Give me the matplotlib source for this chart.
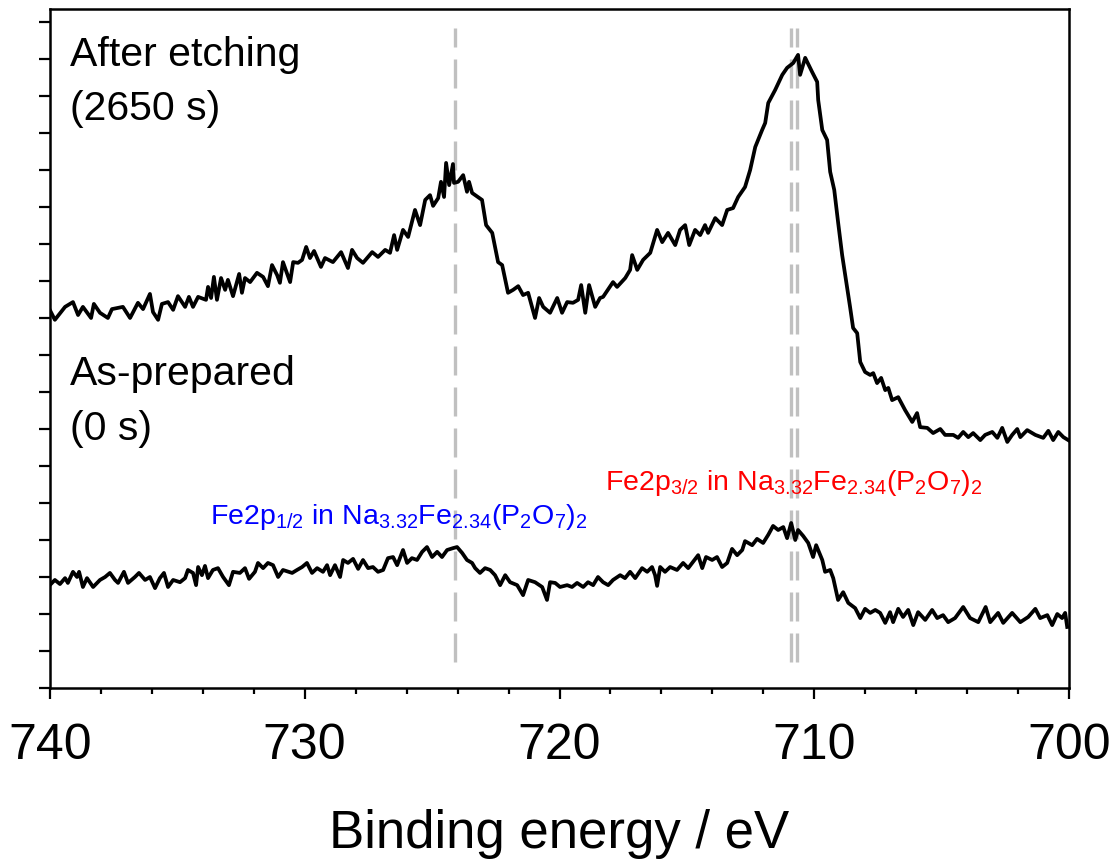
import matplotlib
matplotlib.use("Agg")
import matplotlib.pyplot as plt
from matplotlib.ticker import MultipleLocator, NullFormatter

plt.rcParams['font.family'] = ['Liberation Sans', 'DejaVu Sans']
plt.rcParams['mathtext.fontset'] = 'custom'
plt.rcParams['mathtext.rm'] = 'Liberation Sans'
plt.rcParams['mathtext.it'] = 'Liberation Sans:italic'

# After etching (2650 s): binding energy (eV) and intensity (a.u.)
after_be = [740.00, 739.80, 739.40, 739.09, 738.89, 738.70, 738.38, 738.27, 738.03, 737.72,
            737.56, 737.13, 736.85, 736.54, 736.34, 736.07, 735.95, 735.75, 735.60, 735.36,
            735.16, 734.97, 734.69, 734.54, 734.38, 734.18, 733.87, 733.79, 733.67, 733.56,
            733.44, 733.28, 733.12, 733.01, 732.81, 732.57, 732.46, 732.34, 732.14, 731.87,
            731.63, 731.44, 731.28, 731.08, 730.97, 730.85, 730.57, 730.45, 730.26, 730.10,
            729.94, 729.79, 729.63, 729.36, 729.20, 728.89, 728.57, 728.30, 728.14, 727.94,
            727.71, 727.35, 727.12, 726.84, 726.65, 726.49, 726.37, 726.14, 725.94, 725.67,
            725.47, 725.27, 725.08, 724.96, 724.76, 724.65, 724.53, 724.45, 724.33, 724.18,
            724.14, 723.98, 723.78, 723.63, 723.55, 723.43, 723.04, 722.88, 722.64, 722.41,
            722.25, 722.02, 721.82, 721.62, 721.43, 721.23, 720.96, 720.80, 720.64, 720.37,
            720.09, 719.90, 719.70, 719.47, 719.27, 719.15, 718.99, 718.84, 718.60, 718.41,
            718.29, 717.90, 717.74, 717.42, 717.23, 717.15, 716.95, 716.72, 716.44, 716.17,
            715.97, 715.74, 715.46, 715.27, 715.07, 714.91, 714.68, 714.48, 714.29, 714.17,
            713.89, 713.62, 713.42, 713.19, 712.99, 712.72, 712.52, 712.32, 712.05, 711.93,
            711.81, 711.54, 711.26, 711.07, 710.83, 710.64, 710.56, 710.36, 710.09, 709.89,
            709.85, 709.69, 709.50, 709.38, 709.22, 709.07, 708.91, 708.79, 708.60, 708.48,
            708.32, 708.20, 708.01, 707.81, 707.69, 707.54, 707.38, 707.22, 707.10, 706.95,
            706.71, 706.44, 706.16, 705.97, 705.85, 705.57, 705.34, 705.06, 704.87, 704.55,
            704.36, 704.16, 703.96, 703.77, 703.49, 703.30, 703.02, 702.82, 702.63, 702.43,
            702.24, 702.04, 701.92, 701.65, 701.33, 701.02, 700.82, 700.63, 700.43, 700.23,
            700.04]
after_int = [10.22, 9.95, 10.30, 10.43, 10.08, 10.30, 10.00, 10.38, 10.14, 10.00,
             10.24, 10.30, 10.00, 10.41, 10.24, 10.65, 10.16, 9.95, 10.38, 10.43,
             10.22, 10.59, 10.30, 10.57, 10.30, 10.57, 10.49, 10.84, 10.54, 11.11,
             10.49, 11.08, 10.76, 11.03, 10.59, 11.19, 10.68, 11.08, 10.97, 11.22,
             11.11, 10.86, 11.43, 11.16, 10.95, 11.51, 10.97, 11.51, 11.49, 11.57,
             11.92, 11.62, 11.81, 11.38, 11.62, 11.51, 11.78, 11.35, 11.84, 11.62,
             11.49, 11.78, 11.65, 11.84, 11.76, 12.24, 11.84, 12.38, 12.19, 12.92,
             12.51, 13.19, 13.32, 13.03, 13.24, 13.68, 13.27, 14.19, 13.59, 14.16,
             13.65, 13.68, 13.86, 13.41, 13.68, 13.38, 13.19, 12.51, 12.30, 11.51,
             11.43, 10.68, 10.76, 10.86, 10.62, 10.68, 10.00, 10.54, 10.30, 10.14,
             10.54, 10.14, 10.43, 10.41, 10.49, 10.89, 10.14, 10.89, 10.30, 10.54,
             10.57, 10.97, 10.84, 11.08, 11.30, 11.70, 11.30, 11.57, 11.76, 12.38,
             12.05, 12.30, 11.97, 12.38, 12.51, 11.97, 12.38, 12.24, 12.51, 12.30,
             12.70, 12.51, 12.92, 12.97, 13.27, 13.54, 14.00, 14.62, 15.08, 15.27,
             15.81, 16.16, 16.57, 16.76, 16.89, 17.11, 16.57, 17.03, 16.65, 16.38,
             15.89, 15.08, 14.81, 13.95, 13.46, 12.59, 11.70, 11.16, 10.30, 9.73,
             9.59, 8.81, 8.54, 8.46, 8.51, 8.24, 8.38, 8.05, 8.11, 7.78,
             7.86, 7.51, 7.19, 7.43, 7.05, 7.03, 6.89, 7.00, 6.84, 6.84,
             6.76, 6.92, 6.78, 6.89, 6.70, 6.84, 6.92, 6.76, 7.03, 6.65,
             6.84, 7.00, 6.78, 6.97, 6.84, 6.76, 6.95, 6.70, 6.92, 6.78,
             6.70]

# As-prepared (0 s)
before_be = [740.00, 739.80, 739.60, 739.40, 739.29, 739.09, 738.93, 738.85, 738.70, 738.54,
             738.30, 738.03, 737.83, 737.64, 737.44, 737.32, 737.09, 736.93, 736.66, 736.50,
             736.26, 736.07, 735.87, 735.68, 735.52, 735.36, 735.16, 734.89, 734.69, 734.58,
             734.38, 734.26, 734.18, 734.03, 733.91, 733.79, 733.60, 733.40, 733.20, 732.97,
             732.81, 732.54, 732.34, 732.18, 731.95, 731.83, 731.63, 731.44, 731.24, 731.04,
             730.85, 730.49, 730.30, 730.10, 729.91, 729.71, 729.51, 729.28, 729.12, 729.00,
             728.81, 728.61, 728.49, 728.30, 728.10, 727.90, 727.71, 727.51, 727.32, 727.12,
             726.92, 726.73, 726.53, 726.37, 726.14, 725.98, 725.79, 725.59, 725.39, 725.20,
             725.00, 724.80, 724.61, 724.41, 724.18, 724.02, 723.82, 723.63, 723.43, 723.31,
             723.12, 722.92, 722.72, 722.53, 722.33, 722.13, 721.94, 721.66, 721.43, 721.23,
             720.96, 720.68, 720.49, 720.37, 720.17, 719.98, 719.70, 719.51, 719.31, 719.07,
             718.88, 718.68, 718.49, 718.29, 718.09, 717.90, 717.62, 717.43, 717.23, 717.03,
             716.76, 716.56, 716.37, 716.25, 716.17, 716.05, 715.86, 715.66, 715.39, 715.15,
             714.95, 714.76, 714.56, 714.40, 714.25, 714.01, 713.82, 713.62, 713.42, 713.23,
             713.03, 712.83, 712.72, 712.44, 712.25, 712.01, 711.81, 711.62, 711.42, 711.22,
             711.07, 710.91, 710.75, 710.64, 710.44, 710.24, 710.05, 709.93, 709.69, 709.58,
             709.38, 709.26, 709.07, 708.87, 708.67, 708.40, 708.20, 708.01, 707.81, 707.61,
             707.42, 707.22, 707.03, 706.91, 706.71, 706.52, 706.32, 706.12, 705.93, 705.65,
             705.38, 705.18, 704.95, 704.75, 704.48, 704.16, 703.89, 703.57, 703.28, 703.10,
             702.79, 702.59, 702.24, 701.92, 701.61, 701.33, 701.14, 700.86, 700.67, 700.47,
             700.28, 700.16, 700.08]
before_int = [2.78, 2.92, 2.81, 2.97, 2.84, 3.14, 3.00, 3.14, 2.73, 2.97,
              2.73, 2.92, 3.00, 3.11, 2.92, 2.84, 3.14, 2.84, 3.00, 3.11,
              2.92, 3.00, 2.70, 2.97, 3.11, 2.73, 2.92, 2.86, 2.97, 3.19,
              3.11, 2.78, 3.27, 3.05, 3.30, 2.97, 3.19, 3.24, 3.00, 2.78,
              3.14, 3.11, 3.24, 2.95, 3.14, 3.38, 3.24, 3.38, 3.32, 3.00,
              3.19, 3.11, 3.19, 3.27, 3.38, 3.11, 3.24, 3.14, 3.32, 3.05,
              3.32, 3.00, 3.46, 3.38, 3.49, 3.22, 3.46, 3.24, 3.27, 3.14,
              3.19, 3.51, 3.54, 3.32, 3.73, 3.38, 3.51, 3.46, 3.68, 3.81,
              3.54, 3.68, 3.54, 3.73, 3.78, 3.81, 3.65, 3.46, 3.38, 3.24,
              3.11, 3.24, 3.19, 3.05, 2.78, 3.05, 2.86, 2.78, 2.51, 2.92,
              2.86, 2.73, 2.38, 2.86, 2.84, 2.73, 2.78, 2.73, 2.84, 2.73,
              2.86, 2.78, 3.00, 2.86, 2.78, 2.92, 3.05, 2.97, 3.14, 2.97,
              3.24, 3.14, 3.27, 3.05, 2.76, 3.27, 3.14, 3.27, 3.19, 3.38,
              3.24, 3.41, 3.59, 3.24, 3.54, 3.46, 3.54, 3.27, 3.38, 3.76,
              3.59, 3.73, 3.97, 3.86, 4.03, 3.92, 4.14, 4.38, 4.27, 4.35,
              4.05, 4.46, 4.00, 4.27, 4.11, 3.92, 3.54, 3.86, 3.46, 3.14,
              3.19, 2.97, 2.38, 2.59, 2.30, 2.16, 1.89, 2.14, 2.03, 2.11,
              2.03, 1.76, 2.05, 1.78, 2.14, 1.92, 2.11, 1.70, 2.05, 1.84,
              2.11, 1.89, 1.97, 1.78, 1.89, 2.19, 1.89, 1.78, 2.19, 1.78,
              2.03, 1.76, 2.03, 1.78, 1.92, 2.14, 1.89, 1.97, 1.70, 2.00,
              1.89, 2.03, 1.65]

ref_lines = [724.1, 710.9, 710.7]
xticks = [740, 730, 720, 710, 700]

fig = plt.figure(figsize=(11.16, 8.65), dpi=100)
ax = fig.add_axes([0.0446, 0.2046, 0.9135, 0.785])

for x0 in ref_lines:
    ax.plot([x0, x0], [0.7, 17.84], color='#c0c0c0', lw=2.4,
            dashes=(8.7, 3.6), zorder=1)

ax.plot(after_be, after_int, color='black', lw=2.7, zorder=3)
ax.plot(before_be, before_int, color='black', lw=2.7, zorder=3)

ax.text(739.2, 16.81, 'After etching', fontsize=29.5)
ax.text(739.2, 15.35, '(2650 s)', fontsize=29.5)
ax.text(739.2, 8.19, 'As-prepared', fontsize=29.5)
ax.text(739.2, 6.70, '(0 s)', fontsize=29.5)

ax.text(733.7, 4.43,
        r'Fe2p$_\mathregular{1/2}$ in Na$_\mathregular{3.32}$Fe$_\mathregular{2.34}$'
        r'(P$_\mathregular{2}$O$_\mathregular{7}$)$_\mathregular{2}$',
        color='#0000ff', fontsize=20.5)
ax.text(718.2, 5.35,
        r'Fe2p$_\mathregular{3/2}$ in Na$_\mathregular{3.32}$Fe$_\mathregular{2.34}$'
        r'(P$_\mathregular{2}$O$_\mathregular{7}$)$_\mathregular{2}$',
        color='#ff0000', fontsize=20.5)

ax.set_xlim(740, 700)
ax.set_ylim(0, 18.35)
ax.set_xticks(xticks)
ax.xaxis.set_minor_locator(MultipleLocator(2))
ax.yaxis.set_major_locator(MultipleLocator(1))
ax.yaxis.set_major_formatter(NullFormatter())
ax.tick_params(axis='x', which='major', direction='out', length=8, width=1.6,
               labelsize=36, pad=17)
ax.tick_params(axis='x', which='minor', direction='out', length=4.5, width=1.6)
ax.tick_params(axis='y', which='major', direction='out', length=8, width=1.6)
for s in ax.spines.values():
    s.set_linewidth(1.8)

ax.set_xlabel('Binding energy / eV', fontsize=38, labelpad=29)

fig.savefig('out.png', dpi=100)
